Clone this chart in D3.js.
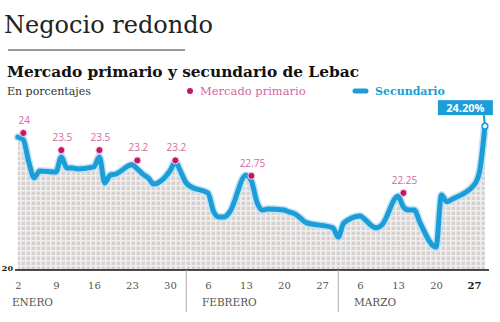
<!DOCTYPE html>
<html>
<head>
<meta charset="utf-8">
<script src="https://cdn.jsdelivr.net/npm/d3@7"></script>
<style>
  body { margin: 0; background: #fff; }
  svg { display: block; }
</style>
</head>
<body>
<div id="chart"></div>
<script>
const width = 500;
const height = 322;

const serif = '"DejaVu Serif", serif';
const blue = '#1d9dd7';
const pink = '#d4679f';
const dotColor = '#c2166b';
const textColor = '#555';

// mercado secundario, dias habiles
const secDates = [
  '2017-01-02', '2017-01-03', '2017-01-04', '2017-01-05', '2017-01-06',
  '2017-01-09', '2017-01-10', '2017-01-11', '2017-01-12', '2017-01-13',
  '2017-01-16', '2017-01-17', '2017-01-18', '2017-01-19', '2017-01-20',
  '2017-01-23', '2017-01-24', '2017-01-25', '2017-01-26', '2017-01-27',
  '2017-01-30', '2017-01-31', '2017-02-01', '2017-02-02', '2017-02-03',
  '2017-02-06', '2017-02-07', '2017-02-08', '2017-02-09', '2017-02-10',
  '2017-02-13', '2017-02-14', '2017-02-15', '2017-02-16', '2017-02-17',
  '2017-02-20', '2017-02-21', '2017-02-22', '2017-02-23', '2017-02-24',
  '2017-03-01', '2017-03-02', '2017-03-03',
  '2017-03-06', '2017-03-07', '2017-03-08', '2017-03-09', '2017-03-10',
  '2017-03-13', '2017-03-14', '2017-03-15', '2017-03-16', '2017-03-17',
  '2017-03-20', '2017-03-21', '2017-03-22', '2017-03-23',
  '2017-03-27', '2017-03-28', '2017-03-29'
];
const secValues = [
  23.88, 23.80, 23.15, 22.69, 22.89,
  22.86, 23.30, 22.98, 22.98, 22.95,
  23.01, 23.30, 22.54, 22.77, 22.80,
  23.07, 22.95, 22.80, 22.69, 22.51,
  22.89, 23.15, 22.86, 22.54, 22.42,
  22.25, 21.72, 21.55, 21.55, 21.69,
  22.77, 22.60, 21.99, 21.75, 21.78,
  21.75, 21.69, 21.64, 21.52, 21.39,
  21.23, 20.96, 21.37,
  21.58, 21.46, 21.31, 21.23, 21.31,
  22.15, 21.84, 21.75, 21.75, 21.40,
  20.67, 22.19, 21.99, 22.07,
  22.48, 22.86, 24.20
];

// licitaciones, mercado primario
const primDates = ['2017-01-03', '2017-01-10', '2017-01-17', '2017-01-24', '2017-01-31', '2017-02-14', '2017-03-14'];
const primValues = [24, 23.5, 23.5, 23.2, 23.2, 22.75, 22.25];
const primLabels = ['24', '23.5', '23.5', '23.2', '23.2', '22.75', '22.25'];

const tickDates = ['2017-01-02', '2017-01-09', '2017-01-16', '2017-01-23', '2017-01-30',
  '2017-02-06', '2017-02-13', '2017-02-20', '2017-02-27',
  '2017-03-06', '2017-03-13', '2017-03-20', '2017-03-27'];
const tickLabels = ['2', '9', '16', '23', '30', '6', '13', '20', '27', '6', '13', '20', '27'];

const monthNames = ['ENERO', 'FEBRERO', 'MARZO'];
const monthStarts = ['2017-01-02', '2017-02-06', '2017-03-06'];
const monthBreaks = ['2017-02-02', '2017-03-02'];

const lastLabel = '24.20%';

const parse = d3.utcParse('%Y-%m-%d');
const secondary = secDates.map((d, i) => ({date: parse(d), value: secValues[i]}));
const primary = primDates.map((d, i) => ({date: parse(d), value: primValues[i], label: primLabels[i]}));

const x = d3.scaleUtc()
  .domain([parse('2017-01-02'), parse('2017-03-29')])
  .range([17.9, 484.9]);

const y = d3.scaleLinear()
  .domain([20, 24])
  .range([270, 133]);

const svg = d3.select('#chart')
  .append('svg')
  .attr('width', width)
  .attr('height', height);

// grid pattern for the area
const defs = svg.append('defs');
const pattern = defs.append('pattern')
  .attr('id', 'grid')
  .attr('patternUnits', 'userSpaceOnUse')
  .attr('width', 5)
  .attr('height', 5);
pattern.append('rect').attr('width', 5).attr('height', 5).attr('fill', '#d6d1d1');
pattern.append('rect').attr('width', 1.6).attr('height', 5).attr('fill', '#f1eeee');
pattern.append('rect').attr('width', 5).attr('height', 1.6).attr('fill', '#f1eeee');

// headings
svg.append('text')
  .attr('x', 4).attr('y', 33)
  .attr('font-family', serif)
  .attr('font-size', 24)
  .attr('fill', '#222')
  .text('Negocio redondo');

svg.append('line')
  .attr('x1', 8).attr('x2', 185)
  .attr('y1', 50).attr('y2', 50)
  .attr('stroke', '#9a9a9a')
  .attr('stroke-width', 2);

svg.append('text')
  .attr('x', 7).attr('y', 77)
  .attr('font-family', serif)
  .attr('font-weight', 'bold')
  .attr('font-size', 14.5)
  .attr('textLength', 352)
  .attr('lengthAdjust', 'spacingAndGlyphs')
  .attr('fill', '#111')
  .text('Mercado primario y secundario de Lebac');

svg.append('text')
  .attr('x', 7).attr('y', 95)
  .attr('font-family', serif)
  .attr('font-size', 11)
  .attr('fill', '#333')
  .text('En porcentajes');

// legend
svg.append('circle')
  .attr('cx', 190).attr('cy', 91).attr('r', 3)
  .attr('fill', dotColor);
svg.append('text')
  .attr('x', 200).attr('y', 95)
  .attr('font-family', serif)
  .attr('font-size', 11.5)
  .attr('fill', pink)
  .text('Mercado primario');

svg.append('line')
  .attr('x1', 355).attr('x2', 366)
  .attr('y1', 91).attr('y2', 91)
  .attr('stroke', blue)
  .attr('stroke-width', 5)
  .attr('stroke-linecap', 'round');
svg.append('text')
  .attr('x', 375).attr('y', 95)
  .attr('font-family', serif)
  .attr('font-weight', 'bold')
  .attr('font-size', 11)
  .attr('fill', blue)
  .text('Secundario');

// area + line
const area = d3.area()
  .x(d => x(d.date))
  .y0(y(20))
  .y1(d => y(d.value))
  .curve(d3.curveMonotoneX);

const line = d3.line()
  .x(d => x(d.date))
  .y(d => y(d.value))
  .curve(d3.curveMonotoneX);

svg.append('path')
  .datum(secondary)
  .attr('d', area)
  .attr('fill', 'url(#grid)');

svg.append('path')
  .datum(secondary)
  .attr('d', line)
  .attr('fill', 'none')
  .attr('stroke', '#bfe3f4')
  .attr('stroke-width', 8)
  .attr('stroke-linejoin', 'round')
  .attr('stroke-linecap', 'round');

svg.append('path')
  .datum(secondary)
  .attr('d', line)
  .attr('fill', 'none')
  .attr('stroke', blue)
  .attr('stroke-width', 5)
  .attr('stroke-linejoin', 'round')
  .attr('stroke-linecap', 'round');

// primary auction dots
const prim = svg.append('g');
prim.selectAll('circle')
  .data(primary)
  .join('circle')
  .attr('cx', d => x(d.date))
  .attr('cy', d => y(d.value))
  .attr('r', 3.5)
  .attr('fill', dotColor)
  .attr('stroke', '#f4d2e3')
  .attr('stroke-width', 1);
prim.selectAll('text')
  .data(primary)
  .join('text')
  .attr('x', d => x(d.date) + 1)
  .attr('y', d => y(d.value) - 9)
  .attr('text-anchor', 'middle')
  .attr('font-family', '"Open Sans", sans-serif')
  .attr('font-size', 10)
  .attr('fill', pink)
  .text(d => d.label);

// last value callout
const last = secondary[secondary.length - 1];
const lx = x(last.date);
const ly = y(last.value);
const boxW = 55, boxH = 15;
const boxX = Math.min(lx - boxW + 8, width - boxW - 7);
const boxY = ly - 11 - boxH;

svg.append('line')
  .attr('x1', lx - 1).attr('x2', lx)
  .attr('y1', boxY + boxH).attr('y2', ly)
  .attr('stroke', blue)
  .attr('stroke-width', 2);
svg.append('rect')
  .attr('x', boxX).attr('y', boxY)
  .attr('width', boxW).attr('height', boxH)
  .attr('fill', blue);
svg.append('text')
  .attr('x', boxX + boxW / 2).attr('y', boxY + 11.5)
  .attr('text-anchor', 'middle')
  .attr('font-family', '"Open Sans", sans-serif')
  .attr('font-weight', 'bold')
  .attr('font-size', 11)
  .attr('fill', '#fff')
  .text(lastLabel);
svg.append('circle')
  .attr('cx', lx).attr('cy', ly).attr('r', 2.8)
  .attr('fill', '#fff')
  .attr('stroke', blue)
  .attr('stroke-width', 1.5);

// x axis
const xAxis = d3.axisBottom(x)
  .tickValues(tickDates.map(parse))
  .tickFormat((d, i) => tickLabels[i])
  .tickSize(0)
  .tickPadding(0);

const axisG = svg.append('g')
  .attr('transform', `translate(0, ${y(20)})`)
  .call(xAxis);
axisG.select('.domain').remove();
axisG.selectAll('text')
  .attr('y', 19)
  .attr('dy', 0)
  .attr('font-family', serif)
  .attr('font-size', 10)
  .attr('font-weight', (d, i) => i === tickLabels.length - 1 ? 'bold' : 'normal')
  .attr('fill', (d, i) => i === tickLabels.length - 1 ? '#111' : textColor);

svg.append('line')
  .attr('x1', 15).attr('x2', 489)
  .attr('y1', y(20)).attr('y2', y(20))
  .attr('stroke', '#111')
  .attr('stroke-width', 1.5);

svg.append('text')
  .attr('x', 13).attr('y', y(20) + 1)
  .attr('text-anchor', 'end')
  .attr('font-family', serif)
  .attr('font-weight', 'bold')
  .attr('font-size', 8)
  .attr('fill', '#111')
  .text('20');

svg.selectAll('.month-break')
  .data(monthBreaks.map(parse))
  .join('line')
  .attr('class', 'month-break')
  .attr('x1', d => x(d)).attr('x2', d => x(d))
  .attr('y1', y(20)).attr('y2', y(20) + 42)
  .attr('stroke', '#aaa')
  .attr('stroke-width', 1);

svg.selectAll('.month')
  .data(monthNames)
  .join('text')
  .attr('class', 'month')
  .attr('x', (d, i) => x(parse(monthStarts[i])) - 6)
  .attr('y', 306)
  .attr('font-family', serif)
  .attr('font-size', 10.5)
  .attr('fill', textColor)
  .text(d => d);
</script>
</body>
</html>
